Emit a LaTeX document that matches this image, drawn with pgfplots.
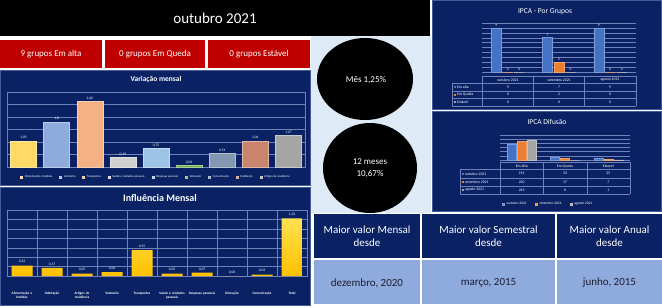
\documentclass[border=0pt]{standalone}
\usepackage{fontspec}
\setmainfont{Carlito}
\usepackage{pgfplots}
\pgfplotsset{compat=1.18}
\definecolor{navy}{RGB}{10,34,100}
\definecolor{pborder}{RGB}{70,92,150}
\definecolor{gridc}{RGB}{110,130,185}
\definecolor{redbox}{RGB}{192,0,0}
\definecolor{lightbg}{RGB}{222,234,246}
\definecolor{tabrow}{RGB}{143,170,220}
\definecolor{darktxt}{RGB}{30,30,50}
\definecolor{sblue}{RGB}{68,114,196}
\definecolor{sorange}{RGB}{237,125,49}
\definecolor{sgray}{RGB}{165,165,165}
\definecolor{c1}{RGB}{255,217,102}
\definecolor{c2}{RGB}{143,170,220}
\definecolor{c3}{RGB}{244,177,131}
\definecolor{c4}{RGB}{208,208,208}
\definecolor{c5}{RGB}{157,195,230}
\definecolor{c6}{RGB}{112,173,71}
\definecolor{c7}{RGB}{132,151,176}
\definecolor{c8}{RGB}{201,132,110}
\definecolor{c9}{RGB}{165,165,165}
\newcommand{\fs}[2]{\fontsize{#1}{#2}\selectfont}
\begin{document}
\begin{tikzpicture}
\begin{scope}[x=1pt,y=-1pt]
\path[use as bounding box] (0,0) rectangle (662,308);
\fill[white] (0,0) rectangle (662,308);
\fill[black] (0,0) rectangle (430,36);
\node[white, font=\fs{15}{18}] at (215,18) {outubro 2021};
\fill[redbox] (0,40) rectangle (102,68);
\fill[redbox] (105,40) rectangle (205,68);
\fill[redbox] (208,40) rectangle (310,68);
\node[white, font=\fs{9}{10}] at (51,54) {9 grupos Em alta};
\node[white, font=\fs{9}{10}] at (155,54) {0 grupos Em Queda};
\node[white, font=\fs{9}{10}] at (259,54) {0 grupos Estável};
\fill[lightbg] (311,36) rectangle (431,213);
\fill[black] (365,79) ellipse [x radius=48, y radius=41];
\fill[black] (370,168) ellipse [x radius=47, y radius=45];
\node[white, font=\fs{9}{11}] at (366,80) {Mês 1,25\%};
\node[white, font=\fs{9}{12}, align=center] at (370,168) {12 meses\\10,67\%};
\filldraw[fill=navy, draw=pborder, line width=0.6pt] (0.3,70) rectangle (310,185);
\filldraw[fill=navy, draw=pborder, line width=0.6pt] (0.3,187) rectangle (310,305);
\filldraw[fill=navy, draw=pborder, line width=0.6pt] (432,0.3) rectangle (661.7,109);
\filldraw[fill=navy, draw=pborder, line width=0.6pt] (432,111) rectangle (661.7,211);
\node[white, font=\bfseries\fs{7.5}{9}] at (156,79) {Variação mensal};
\node[white, font=\bfseries\fs{10}{12}] at (160,198) {Influência Mensal};
\node[white, font=\fs{7.5}{9}] at (545,12) {IPCA - Por Grupos};
\node[white, font=\fs{7.5}{9}] at (547,122) {IPCA Difusão};
% bottom table
\fill[navy] (314,214) rectangle (420,258);
\fill[navy] (422,214) rectangle (555,258);
\fill[navy] (557,214) rectangle (662,258);
\fill[tabrow] (314,260) rectangle (420,304);
\fill[tabrow] (422,260) rectangle (555,304);
\fill[tabrow] (557,260) rectangle (662,304);
\node[white, font=\fs{11}{13.5}, align=center] at (367,236) {Maior valor Mensal\\desde};
\node[white, font=\fs{11}{13.5}, align=center] at (488.5,236) {Maior valor Semestral\\desde};
\node[white, font=\fs{11}{13.5}, align=center] at (609.5,236) {Maior valor Anual\\desde};
\node[darktxt, font=\fs{11}{13}] at (367,283) {dezembro, 2020};
\node[darktxt, font=\fs{11}{13}] at (488.5,283) {março, 2015};
\node[darktxt, font=\fs{11}{13}] at (609.5,283) {junho, 2015};
\end{scope}

% Variacao mensal
\begin{axis}[
  at={(7pt,-167pt)}, anchor=south west, scale only axis,
  width=298pt, height=75pt,
  ymin=0, ymax=3, ytick={0,0.5,...,3}, yticklabels={}, xtick=\empty,
  major tick length=0pt,
  ymajorgrids, grid style={draw=gridc, line width=0.4pt},
  axis line style={draw=gridc, line width=0.5pt},
  xmin=-0.5, xmax=8.5,
  ybar, bar width=26pt,
  point meta=explicit symbolic,
  nodes near coords,
  every node near coord/.append style={font=\fs{3.6}{4}, text=white, inner sep=1.5pt},
  legend style={at={(0.5,-0.133)}, anchor=center, draw=none, fill=none,
    legend columns=9, font=\fs{3}{3.5}, text=white,
    /tikz/every even column/.append style={column sep=5pt}},
  legend image code/.code={\fill[#1] (0pt,-1pt) rectangle (2pt,1pt);},
]
\addplot[bar shift=0pt, fill=c1, draw=c1!60!white] coordinates {(0,1.05) [1,05]};
\addlegendentry{Alimentação e bebidas}
\addplot[bar shift=0pt, fill=c2, draw=c2!60!white] coordinates {(1,1.8) [1,8]};
\addlegendentry{Vestuário}
\addplot[bar shift=0pt, fill=c3, draw=c3!60!white] coordinates {(2,2.62) [2,62]};
\addlegendentry{Transportes}
\addplot[bar shift=0pt, fill=c4, draw=c4!60!white] coordinates {(3,0.39) [0,39]};
\addlegendentry{Saúde e cuidados pessoais}
\addplot[bar shift=0pt, fill=c5, draw=c5!60!white] coordinates {(4,0.75) [0,75]};
\addlegendentry{Despesas pessoais}
\addplot[bar shift=0pt, fill=c6, draw=c6!60!white] coordinates {(5,0.06) [0,06]};
\addlegendentry{Educação}
\addplot[bar shift=0pt, fill=c7, draw=c7!60!white] coordinates {(6,0.54) [0,54]};
\addlegendentry{Comunicação}
\addplot[bar shift=0pt, fill=c8, draw=c8!60!white] coordinates {(7,1.04) [1,04]};
\addlegendentry{Habitação}
\addplot[bar shift=0pt, fill=c9, draw=c9!60!white] coordinates {(8,1.27) [1,27]};
\addlegendentry{Artigos de residência}
\end{axis}

% Influencia mensal
\begin{axis}[
  at={(7pt,-276pt)}, anchor=south west, scale only axis,
  width=300pt, height=66pt,
  ymin=0, ymax=1.4, ytick={0,0.2,...,1.4}, yticklabels={},
  xmin=-0.5, xmax=9.5, xtick={0,...,9},
  xticklabels={{Alimentação e\\bebidas}, Habitação, {Artigos de\\residência}, Vestuário, Transportes, {Saúde e cuidados\\pessoais}, {Despesas pessoais}, Educação, Comunicação, Total},
  xticklabel style={font=\bfseries\fs{3.4}{4}, text=white, align=center, text width=30pt, anchor=north, yshift=-13pt},
  minor xtick={0.5,1.5,...,8.5},
  xminorgrids, ymajorgrids,
  grid style={draw=gridc, line width=0.4pt},
  minor grid style={draw=gridc, line width=0.4pt},
  major tick length=0pt, minor tick length=0pt,
  axis line style={draw=gridc, line width=0.5pt},
  ybar, bar width=21pt,
  point meta=explicit symbolic,
  nodes near coords,
  every node near coord/.append style={font=\fs{3.6}{4}, text=white, inner sep=2pt},
]
\addplot[bar shift=0pt, draw=none, bottom color={rgb,255:red,255;green,192;blue,0}, top color={rgb,255:red,255;green,225;blue,80}] coordinates {
(0,0.22) [0,22] (1,0.17) [0,17] (2,0.05) [0,05] (3,0.08) [0,08] (4,0.55) [0,55]
(5,0.05) [0,05] (6,0.07) [0,07] (7,0.00) [0,00] (8,0.03) [0,03] (9,1.22) [1,22]};
\end{axis}

% IPCA por grupos
\begin{axis}[
  at={(482pt,-72pt)}, anchor=south west, scale only axis,
  width=154pt, height=49pt,
  ymin=0, ymax=10, ytick={0,1,...,10}, yticklabels={}, xtick=\empty,
  xmin=-0.5, xmax=2.5,
  ymajorgrids, grid style={draw=gridc, line width=0.35pt},
  axis line style={draw=none}, major tick length=0pt,
  ybar=1.5pt, bar width=10pt,
  point meta=explicit symbolic,
  nodes near coords,
  every node near coord/.append style={font=\fs{3.6}{4}, text=white, inner sep=1.5pt},
]
\addplot[fill=sblue, draw=sblue!70!white] coordinates {(0,9) [9] (1,7) [7] (2,9) [9]};
\addplot[fill=sorange, draw=sorange!70!white] coordinates {(0,0) [0] (1,2) [2] (2,0) [0]};
\addplot[fill=sgray, draw=sgray!70!white] coordinates {(0,0) [0] (1,0) [0] (2,0) [0]};
\end{axis}

% IPCA difusao
\begin{axis}[
  at={(500pt,-160pt)}, anchor=south west, scale only axis,
  width=130pt, height=25pt,
  ymin=0, ymax=300, ytick={0,50,...,300}, yticklabels={}, xtick=\empty,
  xmin=-0.5, xmax=2.5,
  ymajorgrids, grid style={draw=gridc, line width=0.35pt},
  axis line style={draw=none}, major tick length=0pt,
  ybar=1pt, bar width=9pt,
  legend style={at={(0.37,-1.76)}, anchor=center, draw=none, fill=none,
    legend columns=3, font=\fs{3.6}{4}, text=white,
    /tikz/every even column/.append style={column sep=6pt}},
  legend image code/.code={\fill[#1] (0pt,-1.2pt) rectangle (2.4pt,1.2pt);},
]
\addplot[fill=sblue, draw=sblue!70!white] coordinates {(0,191) (1,33) (2,25)};
\addlegendentry{outubro 2021}
\addplot[fill=sorange, draw=sorange!70!white] coordinates {(0,220) (1,17) (2,7)};
\addlegendentry{setembro 2021}
\addplot[fill=sgray, draw=sgray!70!white] coordinates {(0,243) (1,0) (2,1)};
\addlegendentry{agosto 2021}
\end{axis}

\begin{scope}[x=1pt,y=-1pt]
% table for por grupos
\draw[gridc, line width=0.4pt] (482,76) -- (636,76);
\foreach \yy in {83.5,91,98.5,106} \draw[gridc, line width=0.4pt] (452,\yy) -- (636,\yy);
\draw[gridc, line width=0.4pt] (452,83.5) -- (452,106);
\foreach \xx in {482,533.5,584.5,636} \draw[gridc, line width=0.4pt] (\xx,76) -- (\xx,106);
\begin{scope}[every node/.style={text=white, font=\fs{3.8}{4.5}, inner sep=0pt}]
\node at (508,80) {outubro 2021};
\node at (559,80) {setembro 2021};
\node at (610,80) {agosto 2021};
\fill[sblue] (454,86.2) rectangle (456,88.2);
\fill[sorange] (454,93.7) rectangle (456,95.7);
\fill[sgray] (454,101.2) rectangle (456,103.2);
\node[anchor=west] at (457,87.2) {Em alta};
\node[anchor=west] at (457,94.7) {Em Queda};
\node[anchor=west] at (457,102.2) {Estável};
\node at (508,87.2) {9}; \node at (559,87.2) {7}; \node at (610,87.2) {9};
\node at (508,94.7) {0}; \node at (559,94.7) {2}; \node at (610,94.7) {0};
\node at (508,102.2) {0}; \node at (559,102.2) {0}; \node at (610,102.2) {0};
\end{scope}
% table for difusao
\draw[gridc, line width=0.4pt] (500,162) -- (630,162);
\foreach \yy in {169.5,178,186,194} \draw[gridc, line width=0.4pt] (460,\yy) -- (630,\yy);
\draw[gridc, line width=0.4pt] (460,169.5) -- (460,194);
\foreach \xx in {500,543.5,587,630} \draw[gridc, line width=0.4pt] (\xx,162) -- (\xx,194);
\begin{scope}[every node/.style={text=white, font=\fs{3.8}{4.5}, inner sep=0pt}]
\node at (521.7,166) {Em Alta};
\node at (565,166) {Em Queda};
\node at (608.3,166) {Estavel};
\fill[sblue] (462,172.7) rectangle (464,174.7);
\fill[sorange] (462,181) rectangle (464,183);
\fill[sgray] (462,189) rectangle (464,191);
\node[anchor=west] at (465,173.7) {outubro 2021};
\node[anchor=west] at (465,182) {setembro 2021};
\node[anchor=west] at (465,190) {agosto 2021};
\node at (521.7,173.7) {191}; \node at (565,173.7) {33}; \node at (608.3,173.7) {25};
\node at (521.7,182) {220}; \node at (565,182) {17}; \node at (608.3,182) {7};
\node at (521.7,190) {243}; \node at (565,190) {0}; \node at (608.3,190) {1};
\end{scope}
\end{scope}
\end{tikzpicture}
\end{document}
